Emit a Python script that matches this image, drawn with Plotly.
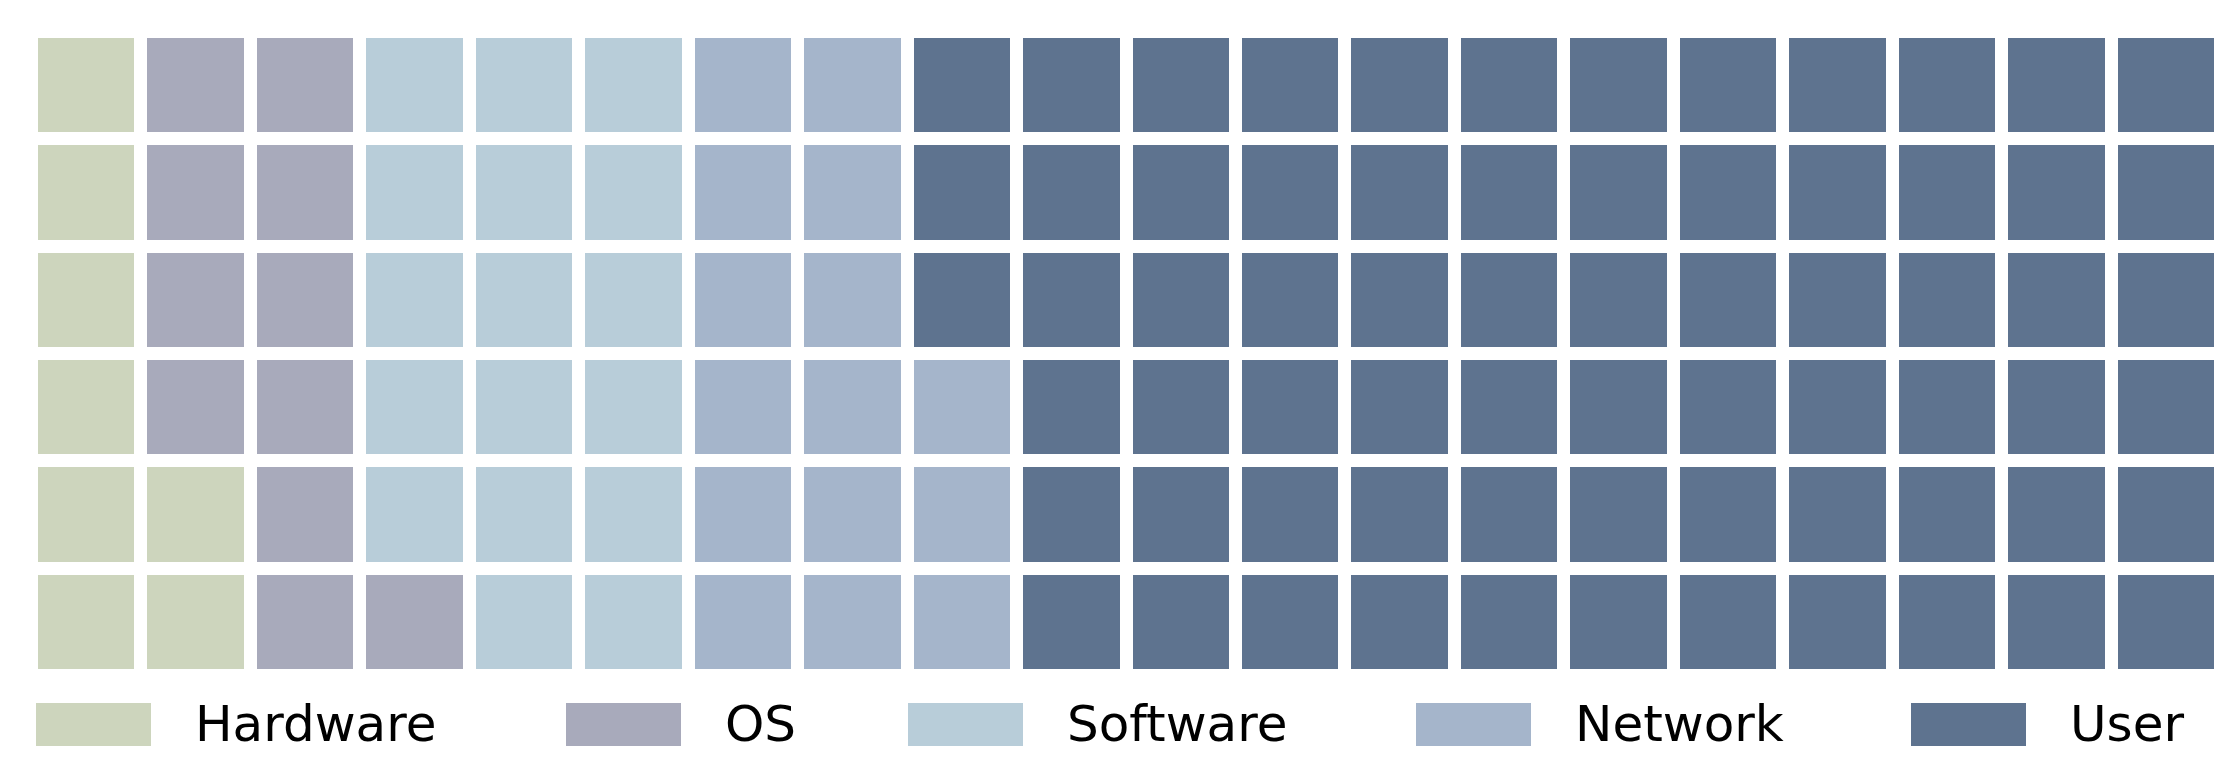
import plotly.graph_objects as go

# waffle chart: 20 columns x 6 rows, filled column by column, bottom to top
categories = ["Hardware", "OS", "Software", "Network", "User"]
counts = [8, 11, 17, 15, 69]
colors = ["#cdd5bd", "#a8aabb", "#b8cdd9", "#a5b5cb", "#5e738f"]
n_cols, n_rows = 20, 6

cells = []
for i, c in enumerate(counts):
    cells += [i] * c

z = [[None] * n_cols for _ in range(n_rows)]
for k, v in enumerate(cells):
    z[k % n_rows][k // n_cols if False else k // n_rows] = v

n = len(categories)
colorscale = []
for i, col in enumerate(colors):
    colorscale.append([i / n, col])
    colorscale.append([(i + 1) / n, col])

W, H = 2237, 763
ml, mr, mt, mb = 24, 24, 24, 95
pw, ph = W - ml - mr, H - mt - mb

fig = go.Figure(go.Heatmap(
    z=z, zmin=-0.5, zmax=n - 0.5, colorscale=colorscale, showscale=False,
    xgap=13, ygap=13, hoverinfo="skip",
))

# legend drawn by hand as wide swatches
legend_x = [28, 558, 900, 1408, 1903]  # swatch left edge in pixels
for name, col, lx in zip(categories, colors, legend_x):
    x0 = (lx - ml) / pw
    x1 = (lx + 115 - ml) / pw
    fig.add_shape(type="rect", xref="paper", yref="paper", x0=x0, x1=x1,
                  y0=(ph - (695 - mt)) / ph, y1=(ph - (738 - mt)) / ph,
                  fillcolor=col, line_width=0)
    fig.add_annotation(xref="paper", yref="paper", x=(lx + 157 - ml) / pw,
                       y=(ph - (716 - mt)) / ph, text=name, showarrow=False,
                       xanchor="left", yanchor="middle",
                       font=dict(size=50, color="black", family="DejaVu Sans"))

fig.update_layout(
    width=W, height=H, margin=dict(l=ml, r=mr, t=mt, b=mb),
    plot_bgcolor="white", paper_bgcolor="white",
    xaxis=dict(visible=False, range=[-0.5, n_cols - 0.5]),
    yaxis=dict(visible=False, range=[-0.5, n_rows - 0.5]),
)
fig.write_html("out.html")
